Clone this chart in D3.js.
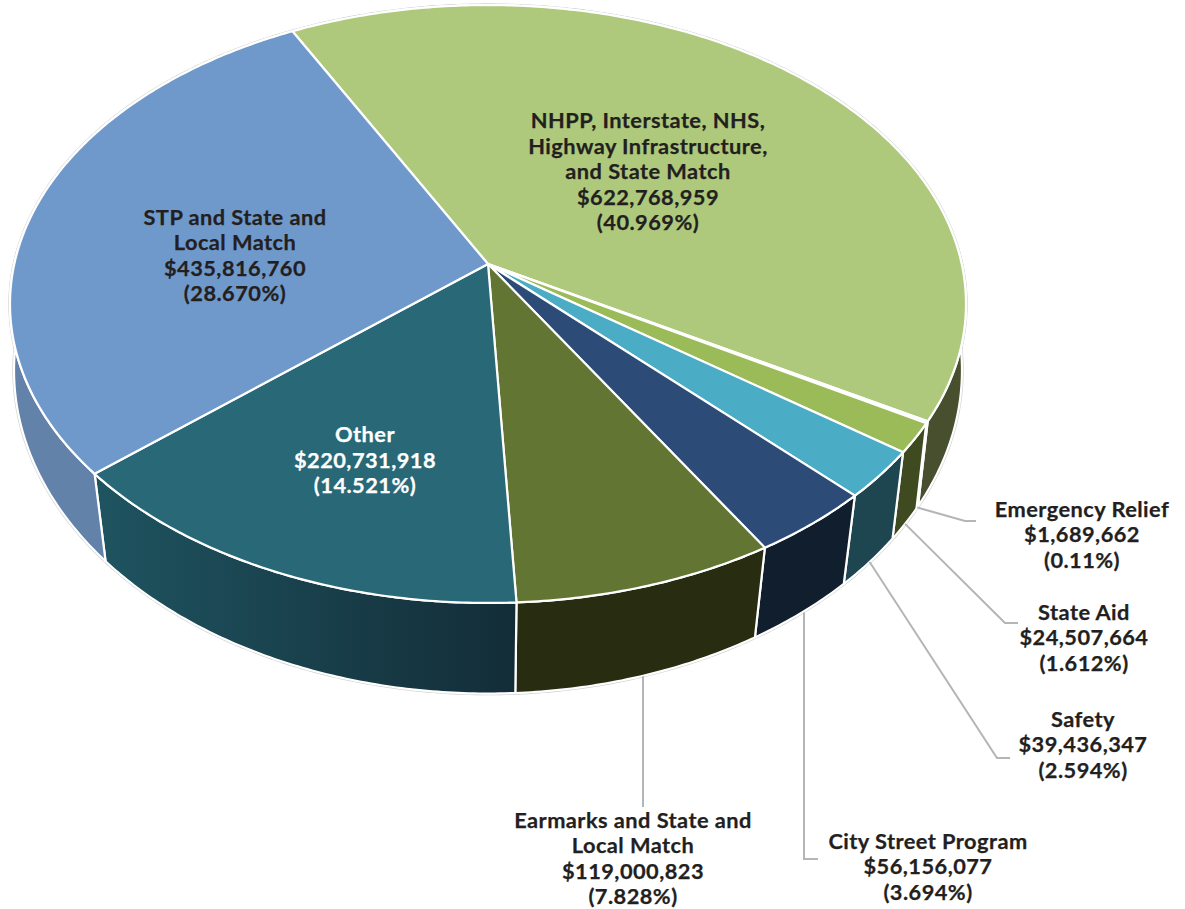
<!DOCTYPE html>
<html>
<head>
<meta charset="utf-8">
<title>Funding by program</title>
<script src="https://cdn.jsdelivr.net/npm/d3@7"></script>
<style>
    html, body { margin: 0; padding: 0; background: #fff; }
    svg { display: block; }
</style>
</head>
<body>
<script>
    /************** data **************/
    let categories = [
        ['NHPP, Interstate, NHS,', 'Highway Infrastructure,', 'and State Match'],
        ['Emergency Relief'],
        ['State Aid'],
        ['Safety'],
        ['City Street Program'],
        ['Earmarks and State and', 'Local Match'],
        ['Other'],
        ['STP and State and', 'Local Match']
    ];
    let amounts = [622768959, 1689662, 24507664, 39436347, 56156077, 119000823, 220731918, 435816760];
    let percentLabels = ['40.969%', '0.11%', '1.612%', '2.594%', '3.694%', '7.828%', '14.521%', '28.670%'];

    let topColors = ['#aec97b', '#a8bfe0', '#9bbb59', '#4bacc6', '#2c4b76', '#627532', '#286877', '#7099cb'];
    let wallColorsLeft = ['#474f2e', '#4a5430', '#3f4a20', '#1e4650', '#111e2e', '#282c10', '#1e535f', '#6382aa'];
    let wallColorsRight = ['#474f2e', '#4a5430', '#3f4a20', '#1e4650', '#111e2e', '#282c10', '#132d38', '#587898'];

    // label centre x, first baseline, text colour
    let labelX = [648, 1082, 1084, 1083, 928, 633, 365, 235];
    let labelY = [128, 516.5, 619.5, 726.5, 848.5, 827.5, 442, 224.5];
    let labelFill = ['#231f20', '#231f20', '#231f20', '#231f20', '#231f20', '#231f20', '#ffffff', '#231f20'];

    // leader lines go from the base rim to these bends (null = inside label)
    let leaderBends = [
        null,
        [[965, 521], [976, 521]],
        [[1005, 623], [1018, 623]],
        [[997, 758], [1010, 758]],
        [[804, 859], [818, 859]],
        [[643, 807]],
        null,
        null
    ];

    /************** geometry **************/
    let w = 1185;
    let h = 909;
    let cx = 488;
    let rotation = -27.5 * Math.PI / 180;

    // a tilted disc seen in perspective: v is toward the viewer
    let topDisc = { y: 264, a: 473.7, b: 293.6, p: 0.1338 };
    let baseDisc = { y: 338, a: 471.6, b: 320, p: 0.1 };

    function project(disc, angle) {
        let u = Math.sin(angle);
        let v = -Math.cos(angle);
        let s = 1 / (1 - disc.p * v);
        return [cx + disc.a * u * s, disc.y + disc.b * v * s];
    }

    function arcPoints(disc, a0, a1) {
        let n = Math.max(2, Math.ceil(Math.abs(a1 - a0) / 0.01));
        return d3.range(n + 1).map(function (i) {
            return project(disc, a0 + (a1 - a0) * i / n);
        });
    }

    let pie = d3.pie()
        .sort(null)
        .startAngle(rotation)
        .endAngle(rotation + 2 * Math.PI);
    let slices = pie(amounts);
    let line = d3.line();

    let svg = d3.select('body')
        .append('svg')
        .attr('width', w)
        .attr('height', h);

    let defs = svg.append('defs');

    /************** faint grey rim **************/
    let fullTurn = [rotation, rotation + 2 * Math.PI];
    svg.selectAll('path.rim')
        .data([baseDisc, topDisc])
        .enter()
        .append('path')
        .attr('class', 'rim')
        .attr('d', function (d) {
            return line(arcPoints(d, fullTurn[0], fullTurn[1])) + 'Z';
        })
        .attr('fill', '#fff')
        .attr('stroke', '#cfcfcf')
        .attr('stroke-width', 3.4);

    /************** outer walls **************/
    slices.forEach(function (d, i) {
        let top = project(baseDisc, d.startAngle)[0];
        let bottom = project(baseDisc, d.endAngle)[0];
        defs.append('linearGradient')
            .attr('id', 'wall' + i)
            .attr('gradientUnits', 'userSpaceOnUse')
            .attr('x1', Math.min(top, bottom))
            .attr('x2', Math.max(top, bottom))
            .attr('y1', 0)
            .attr('y2', 0)
            .call(function (g) {
                g.append('stop').attr('offset', 0).attr('stop-color', wallColorsLeft[i]);
                g.append('stop').attr('offset', 1).attr('stop-color', wallColorsRight[i]);
            });
    });

    svg.selectAll('path.wall')
        .data(slices)
        .enter()
        .append('path')
        .attr('class', 'wall')
        .attr('d', function (d) {
            let upper = arcPoints(topDisc, d.startAngle, d.endAngle);
            let lower = arcPoints(baseDisc, d.endAngle, d.startAngle);
            return line(upper.concat(lower)) + 'Z';
        })
        .attr('fill', function (d, i) { return 'url(#wall' + i + ')'; })
        .attr('stroke', '#fff')
        .attr('stroke-width', 2.2)
        .attr('stroke-linejoin', 'round');

    /************** top faces **************/
    svg.selectAll('path.face')
        .data(slices)
        .enter()
        .append('path')
        .attr('class', 'face')
        .attr('d', function (d) {
            let apex = [cx, topDisc.y];
            return line([apex].concat(arcPoints(topDisc, d.startAngle, d.endAngle))) + 'Z';
        })
        .attr('fill', function (d, i) { return topColors[i]; })
        .attr('stroke', '#fff')
        .attr('stroke-width', 2.2)
        .attr('stroke-linejoin', 'round');

    /************** leader lines **************/
    svg.selectAll('path.leader')
        .data(slices.filter(function (d, i) { return leaderBends[i]; }))
        .enter()
        .append('path')
        .attr('class', 'leader')
        .attr('d', function (d) {
            let mid = (d.startAngle + d.endAngle) / 2;
            let start = project(baseDisc, mid);
            let bends = leaderBends[d.index];
            // nearly straight down: keep it truly vertical
            if (Math.abs(start[0] - bends[0][0]) < 4) start[0] = bends[0][0];
            return line([start].concat(bends));
        })
        .attr('fill', 'none')
        .attr('stroke', '#b5b5b8')
        .attr('stroke-width', 2);

    /************** labels **************/
    let money = d3.format('$,');
    let lineHeight = 25.6;

    let labels = svg.selectAll('text.label')
        .data(slices)
        .enter()
        .append('text')
        .attr('class', 'label')
        .attr('text-anchor', 'middle')
        .attr('font-family', 'Lato, sans-serif')
        .attr('font-weight', 700)
        .attr('font-size', '21.8px')
        .attr('letter-spacing', '0.45px')
        .attr('stroke', function (d, i) { return labelFill[i]; })
        .attr('stroke-width', 0.25)
        .attr('fill', function (d, i) { return labelFill[i]; });

    labels.each(function (d, i) {
        let rows = categories[i].concat([money(d.value), '(' + percentLabels[i] + ')']);
        d3.select(this).selectAll('tspan')
            .data(rows)
            .enter()
            .append('tspan')
            .attr('x', labelX[i])
            .attr('y', function (r, j) { return labelY[i] + j * lineHeight; })
            .text(function (r) { return r; });
    });
</script>
</body>
</html>
